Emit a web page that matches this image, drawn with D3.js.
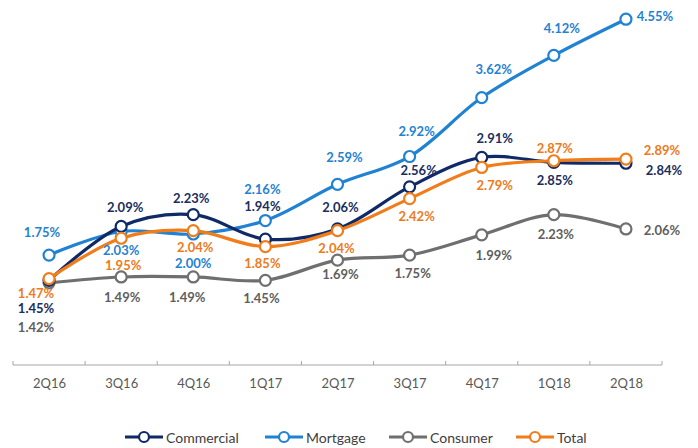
<!DOCTYPE html>
<html>
<head>
<meta charset="utf-8">
<script src="https://cdn.jsdelivr.net/npm/d3@7"></script>
<style>
  body { margin: 0; background: #fff; }
  text { font-family: Lato, "Open Sans", sans-serif; }
</style>
</head>
<body>
<div id="chart"></div>
<script>
// data
const quarters = ['2Q16', '3Q16', '4Q16', '1Q17', '2Q17', '3Q17', '4Q17', '1Q18', '2Q18'];
const commercial = [1.45, 2.09, 2.23, 1.94, 2.06, 2.56, 2.91, 2.85, 2.84];
const mortgage = [1.75, 2.03, 2.00, 2.16, 2.59, 2.92, 3.62, 4.12, 4.55];
const consumer = [1.42, 1.49, 1.49, 1.45, 1.69, 1.75, 1.99, 2.23, 2.06];
const total = [1.47, 1.95, 2.04, 1.85, 2.04, 2.42, 2.79, 2.87, 2.89];

// label offsets [dx, dy] from each point (layout only)
const labelOffsets = {
    Commercial: [[-13, 28], [4, -19], [-2, -17], [-3, -33], [3, -22], [9, -17], [13, -19], [1, 18], [38, 7]],
    Mortgage: [[-7, -23], [0, 19], [0, 29], [-3, -32], [7, -27], [7, -26], [12, -29], [8, -27], [29, -3]],
    Consumer: [[-13, 44], [1, 20], [-6, 20], [-4, 18], [3, 14], [3, 18], [12, 20], [2, 19], [36, 1]],
    Total: [[-13, 14], [2, 27], [2, 16], [-3, 16], [-1, 17], [7, 17], [13, 18], [1, -13], [36, -9]]
};

const series = [
    { name: 'Consumer', values: consumer, color: '#6f6f6f', text: '#5e5e5e' },
    { name: 'Mortgage', values: mortgage, color: '#1f82d2', text: '#1f82d2' },
    { name: 'Commercial', values: commercial, color: '#0f2a66', text: '#1a2e60' },
    { name: 'Total', values: total, color: '#f07d1a', text: '#ee7a1a' }
];
const legendOrder = ['Commercial', 'Mortgage', 'Consumer', 'Total'];

// container
const width = 698;
const height = 448;

let svg = d3.select('#chart')
    .append('svg')
    .attr('width', width)
    .attr('height', height);

// scales
let xScale = d3.scalePoint()
    .domain(quarters)
    .range([13, 662])
    .padding(0.5);

let yScale = d3.scaleLinear()
    .domain([0.445, 4.6])
    .range([365, 15]);

// x axis
let xAxis = d3.axisBottom(xScale).tickSize(0).tickPadding(14);
let xAxisGroup = svg.append('g')
    .attr('transform', `translate(0,365)`)
    .call(xAxis);
xAxisGroup.select('.domain').remove();
xAxisGroup.selectAll('text')
    .style('font-size', '13px')
    .style('fill', '#595959')
    .style('font-family', 'Lato, sans-serif');

const step = xScale.step();
xAxisGroup.append('line')
    .attr('x1', 13).attr('x2', 662)
    .attr('y1', 0).attr('y2', 0)
    .attr('stroke', '#a6a6a6');
xAxisGroup.selectAll('.sep')
    .data(d3.range(quarters.length + 1))
    .enter()
    .append('line')
    .attr('x1', i => 13 + i * step).attr('x2', i => 13 + i * step)
    .attr('y1', 0).attr('y2', -4)
    .attr('stroke', '#a6a6a6');

// lines
let line = d3.line()
    .x((d, i) => xScale(quarters[i]))
    .y(d => yScale(d))
    .curve(d3.curveCatmullRom.alpha(0.5));

let seriesGroup = svg.append('g').classed('series', true);

series.forEach(s => {
    let g = seriesGroup.append('g');
    g.append('path')
        .datum(s.values)
        .attr('d', line)
        .attr('fill', 'none')
        .attr('stroke', s.color)
        .attr('stroke-width', 3.2);

    g.selectAll('circle')
        .data(s.values)
        .enter()
        .append('circle')
        .attr('cx', (d, i) => xScale(quarters[i]))
        .attr('cy', d => yScale(d))
        .attr('r', 5.5)
        .attr('fill', '#fff')
        .attr('stroke', s.color)
        .attr('stroke-width', 2.2);
});

// labels
let labelGroup = svg.append('g').classed('labels', true);
series.forEach(s => {
    labelGroup.selectAll(null)
        .data(s.values)
        .enter()
        .append('text')
        .attr('x', (d, i) => xScale(quarters[i]) + labelOffsets[s.name][i][0])
        .attr('y', (d, i) => yScale(d) + labelOffsets[s.name][i][1])
        .attr('text-anchor', 'middle')
        .attr('dominant-baseline', 'central')
        .style('font-size', '13px')
        .style('font-weight', 'bold')
        .style('fill', s.text)
        .text(d => d.toFixed(2) + '%');
});

// legend
const legendX = [125, 265, 389, 516];
let legend = svg.append('g').classed('legend', true);
legendOrder.forEach((name, i) => {
    let s = series.find(d => d.name === name);
    let g = legend.append('g').attr('transform', `translate(${legendX[i]},437)`);
    g.append('line')
        .attr('x1', 0).attr('x2', 38)
        .attr('stroke', s.color)
        .attr('stroke-width', 3.2);
    g.append('circle')
        .attr('cx', 19).attr('r', 5)
        .attr('fill', '#fff')
        .attr('stroke', s.color)
        .attr('stroke-width', 2.2);
    g.append('text')
        .attr('x', 41)
        .attr('dominant-baseline', 'central')
        .style('font-size', '14px')
        .style('fill', '#404040')
        .text(name);
});
</script>
</body>
</html>
